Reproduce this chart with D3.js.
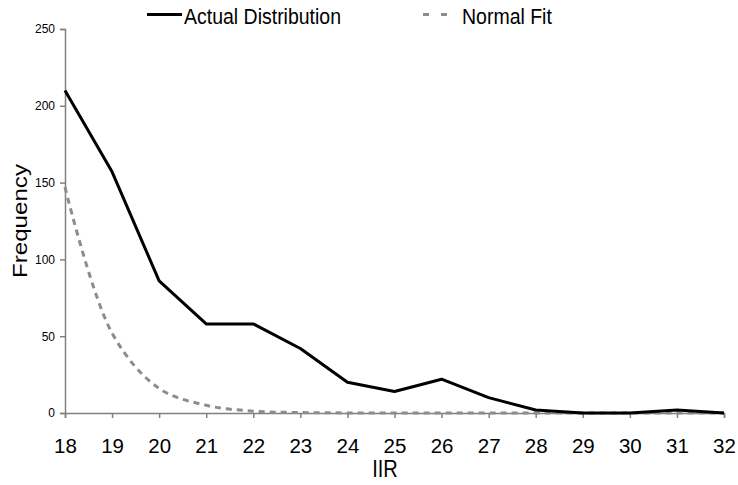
<!DOCTYPE html>
<meta charset="utf-8">
<style>
body { margin: 0; background: #fff; }
text { font-family: "Liberation Sans", Arial, sans-serif; fill: #000; }
</style>
<body>
<script src="https://cdn.jsdelivr.net/npm/d3@7"></script>
<script>

var iir = [18, 19, 20, 21, 22, 23, 24, 25, 26, 27, 28, 29, 30, 31, 32];
var actual = [210, 157, 86, 58, 58, 42, 20, 14, 22, 10, 2, 0, 0, 2, 0];
var normalFit = [147, 52, 16, 5, 1.2, 0.3, 0.05, 0, 0, 0, 0, 0, 0, 0, 0];
var yTicks = [0, 50, 100, 150, 200, 250];

var width = 738,
    height = 485;

var svg = d3.select("body").append("svg")
    .attr("width", width)
    .attr("height", height);

var x = d3.scaleLinear().domain([18, 32]).range([65, 724]);
var y = d3.scaleLinear().domain([0, 250]).range([413, 29]);

// axes
var yAxis = svg.append("g")
    .attr("transform", "translate(" + x(18) + ",0)")
    .call(d3.axisLeft(y).tickValues(yTicks).tickSize(5).tickPadding(5));
yAxis.selectAll("text").style("font-size", "12px").attr("fill", "#000");

var xAxis = svg.append("g")
    .attr("transform", "translate(0," + y(0) + ")")
    .call(d3.axisBottom(x).tickValues(iir).tickSize(5).tickFormat(d3.format("d")).tickPadding(8));
xAxis.selectAll("text").style("font-size", "20.5px").attr("fill", "#000")
    .attr("dy", "0").attr("y", 40);

svg.selectAll(".domain, .tick line")
    .attr("stroke", "#808080")
    .attr("stroke-width", 1.5);

// lines
var line = d3.line()
    .x(function(d, i) { return x(iir[i]); })
    .y(function(d) { return y(d); });

svg.append("path")
    .datum(normalFit)
    .attr("fill", "none")
    .attr("stroke", "#8c8c8c")
    .attr("stroke-width", 3)
    .attr("stroke-dasharray", "6,5")
    .attr("d", line.curve(d3.curveCatmullRom));

svg.append("path")
    .datum(actual)
    .attr("fill", "none")
    .attr("stroke", "#000")
    .attr("stroke-width", 3)
    .attr("stroke-linejoin", "round")
    .attr("d", line.curve(d3.curveLinear));

// axis titles
svg.append("text")
    .attr("transform", "translate(385,477) scale(1,1.15)")
    .attr("text-anchor", "middle")
    .style("font-size", "20px")
    .text("IIR");

svg.append("text")
    .attr("transform", "translate(27,221) rotate(-90) scale(1.15,1)")
    .attr("text-anchor", "middle")
    .style("font-size", "21px")
    .text("Frequency");

// legend
svg.append("line")
    .attr("x1", 147).attr("x2", 182)
    .attr("y1", 14.5).attr("y2", 14.5)
    .attr("stroke", "#000").attr("stroke-width", 3);
svg.append("text")
    .attr("transform", "translate(184,24) scale(1,1.12)")
    .style("font-size", "19.5px")
    .text("Actual Distribution");

svg.append("line")
    .attr("x1", 423).attr("x2", 447)
    .attr("y1", 14.5).attr("y2", 14.5)
    .attr("stroke", "#8c8c8c").attr("stroke-width", 3)
    .attr("stroke-dasharray", "6,12");
svg.append("text")
    .attr("transform", "translate(462,24) scale(1,1.12)")
    .style("font-size", "19.5px")
    .text("Normal Fit");

</script>
</body>
